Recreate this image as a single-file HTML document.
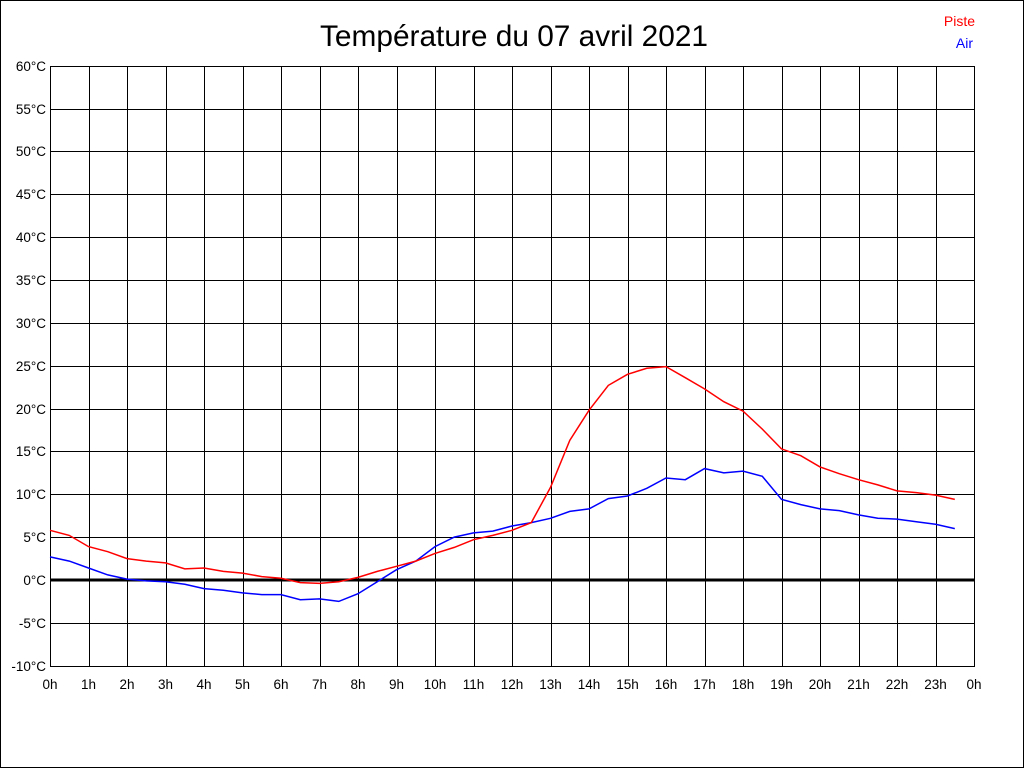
<!DOCTYPE html>
<html><head><meta charset="utf-8"><style>
html,body{margin:0;padding:0;background:#fff}
svg{display:block;font-family:"Liberation Sans",Arial,sans-serif}
</style></head><body>
<svg id="s" width="1024" height="768" xmlns="http://www.w3.org/2000/svg">
<rect x="0.5" y="0.5" width="1023" height="767" fill="#fff" stroke="#000"/>
<text x="514" y="46" font-size="29.5" text-anchor="middle" fill="#000" textLength="388" lengthAdjust="spacingAndGlyphs">Température du 07 avril 2021</text>
<text x="975" y="26" font-size="14" text-anchor="end" fill="#f00">Piste</text>
<text x="973" y="48" font-size="14" text-anchor="end" fill="#00f">Air</text>
<g id="g"></g>
</svg>
<script>
var X0=50,X1=974,Y0=66,Y1=666,dx=(X1-X0)/24,dy=(Y1-Y0)/70;
function yv(v){return 580-v*dy;}
var h='';
h+='<rect x="50.5" y="66.5" width="924" height="600" fill="none" stroke="#000"/>';
for(var i=0;i<=24;i++){var x=Math.round(X0+i*dx)+0.5;h+='<line x1="'+x+'" y1="66" x2="'+x+'" y2="666" stroke="#000"/>';
h+='<text x="'+(X0+i*dx)+'" y="689" font-size="13.5" text-anchor="middle">'+(i%24)+'h</text>';}
for(var t=-10;t<=60;t+=5){var y=Math.round(yv(t))+0.5;
if(t!=0)h+='<line x1="50" y1="'+y+'" x2="974" y2="'+y+'" stroke="#000"/>';
h+='<text x="46" y="'+(y+4.5)+'" font-size="13.5" text-anchor="end">'+t+'°C</text>';}
h+='<line x1="50" y1="580" x2="974" y2="580" stroke="#000" stroke-width="3"/>';
var r=[5.8,5.2,3.9,3.3,2.5,2.2,2.0,1.3,1.4,1.0,0.8,0.4,0.2,-0.3,-0.4,-0.2,0.3,1.0,1.6,2.2,3.1,3.8,4.7,5.2,5.8,6.7,10.8,16.3,19.8,22.7,24.0,24.7,24.9,23.6,22.3,20.8,19.7,17.6,15.3,14.5,13.2,12.4,11.7,11.1,10.4,10.2,9.9,9.4];
var b=[2.7,2.2,1.4,0.6,0.1,-0.1,-0.2,-0.5,-1.0,-1.2,-1.5,-1.7,-1.7,-2.3,-2.2,-2.5,-1.6,-0.2,1.2,2.2,3.9,5.0,5.5,5.7,6.3,6.7,7.2,8.0,8.3,9.5,9.8,10.7,11.9,11.7,13.0,12.5,12.7,12.1,9.4,8.8,8.3,8.1,7.6,7.2,7.1,6.8,6.5,6.0];
function pl(a,c){var p=a.map(function(v,i){return (X0+i*dx/2).toFixed(1)+','+yv(v).toFixed(1)}).join(' ');
return '<polyline points="'+p+'" fill="none" stroke="'+c+'" stroke-width="1.5"/>';}
h+=pl(b,'#00f')+pl(r,'#f00');
document.getElementById('g').innerHTML=h;
</script>
</body></html>
